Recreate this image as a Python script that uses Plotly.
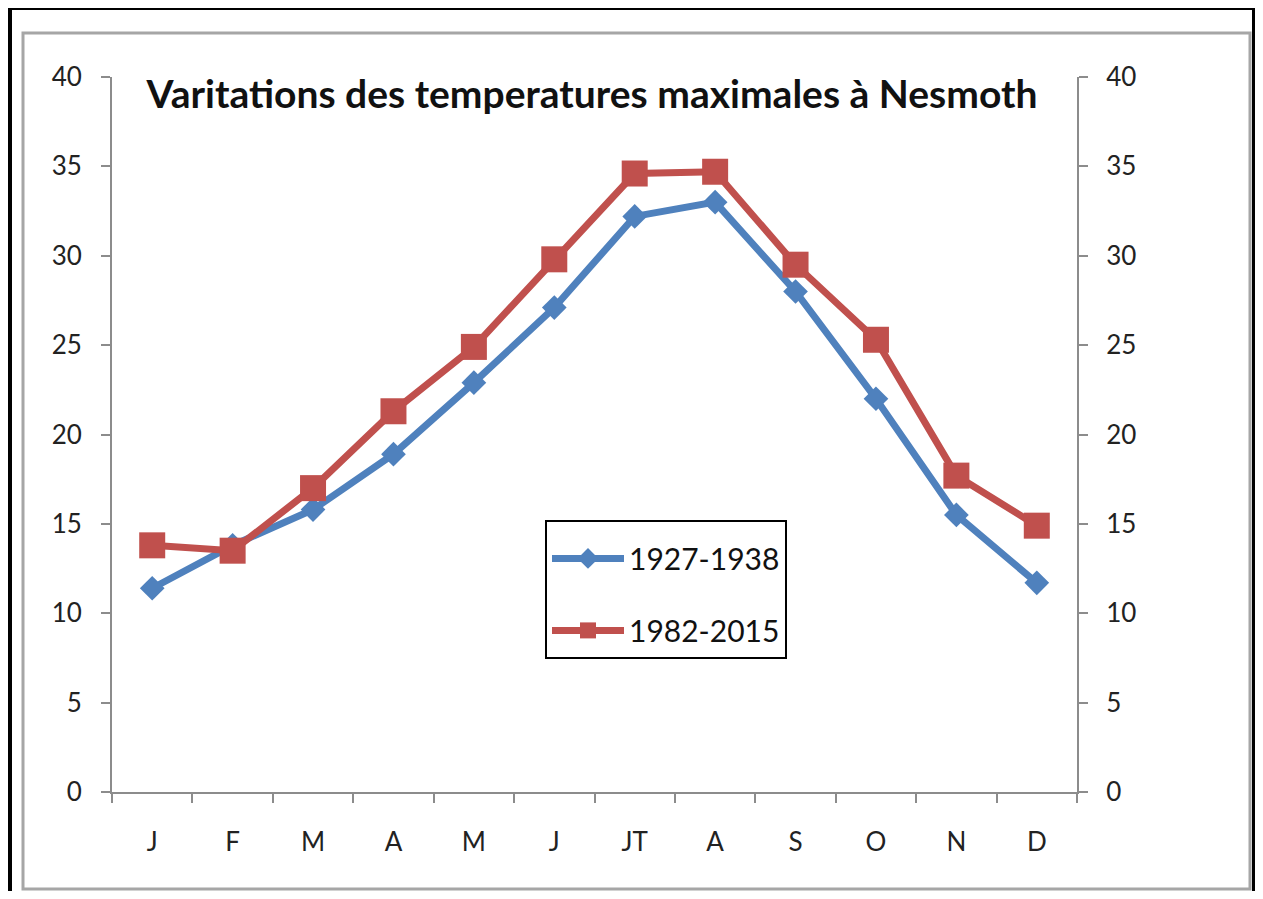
import plotly.graph_objects as go

months = ["J", "F", "M", "A", "M", "J", "JT", "A", "S", "O", "N", "D"]
series_1927_1938 = [11.4, 13.8, 15.8, 18.9, 22.9, 27.1, 32.2, 33.0, 28.0, 22.0, 15.5, 11.7]
series_1982_2015 = [13.8, 13.5, 17.0, 21.3, 24.9, 29.8, 34.6, 34.7, 29.5, 25.3, 17.7, 14.9]
y_ticks = [0, 5, 10, 15, 20, 25, 30, 35, 40]

OFF = 8  # page body margin
W, H = 1263 - 2 * OFF, 899 - 2 * OFF
L, R, T, B = 112 - OFF, 1077 - OFF, 77 - OFF, 792 - OFF

def px(x):
    return (x - OFF - L) / (R - L)

def py(y):
    return (B - (y - OFF)) / (B - T)

xs = list(range(len(months)))
font_family = "Lato, 'Open Sans', sans-serif"

fig = go.Figure()
fig.add_trace(go.Scatter(
    x=xs, y=series_1927_1938, name="1927-1938", mode="lines+markers",
    line=dict(color="#4F81BD", width=7),
    marker=dict(symbol="diamond", size=19, color="#4F81BD"),
    legendgroup="a",
))
fig.add_trace(go.Scatter(
    x=xs, y=series_1982_2015, name="1982-2015", mode="lines+markers",
    line=dict(color="#C0504D", width=7),
    marker=dict(symbol="square", size=26, color="#C0504D"),
    legendgroup="b",
))
fig.add_trace(go.Scatter(
    x=xs, y=series_1982_2015, yaxis="y2", mode="markers",
    marker=dict(opacity=0), showlegend=False, hoverinfo="skip",
))

axis_col = "#8c8c8c"
fig.update_layout(
    width=W, height=H,
    margin=dict(l=L, r=W - R, t=T, b=H - B),
    paper_bgcolor="white", plot_bgcolor="white",
    font=dict(family=font_family, color="#1a1a1a"),
    title=dict(
        text="<b>Varitations des temperatures maximales à Nesmoth</b>",
        x=px(592), xref="paper", xanchor="center",
        y=1 - (94 - OFF) / H, yanchor="middle",
        font=dict(size=39, family=font_family, color="#111"),
    ),
    xaxis=dict(
        range=[-0.5, 11.5], tickmode="array", tickvals=xs, ticktext=months,
        ticks="", showline=True, linecolor=axis_col, linewidth=2,
        showgrid=False, zeroline=False,
        tickfont=dict(size=26, color="#222"),
        ticklabelstandoff=26,
        minor=dict(ticks="outside", tick0=-0.5, dtick=1, ticklen=9,
                   tickcolor=axis_col, tickwidth=2, showgrid=False),
    ),
    yaxis=dict(
        range=[0, 40], tickvals=y_ticks, ticks="outside", ticklen=9,
        tickcolor=axis_col, tickwidth=2,
        showline=True, linecolor=axis_col, linewidth=2,
        showgrid=False, zeroline=False,
        tickfont=dict(size=26, color="#222"),
        ticklabelstandoff=14,
    ),
    yaxis2=dict(
        range=[0, 40], tickvals=y_ticks, ticks="outside", ticklen=9,
        tickcolor=axis_col, tickwidth=2,
        showline=True, linecolor=axis_col, linewidth=2,
        showgrid=False, zeroline=False, overlaying="y", side="right",
        tickfont=dict(size=26, color="#222"),
        ticklabelstandoff=13,
    ),
    legend=dict(
        x=px(545), y=py(520), xanchor="left", yanchor="top",
        bordercolor="black", borderwidth=2, bgcolor="white",
        font=dict(size=30, color="#111"),
        tracegroupgap=30, itemwidth=72,
        title=dict(text=" ", font=dict(size=8)),
    ),
    showlegend=True,
    shapes=[
        dict(type="rect", xref="paper", yref="paper",
             x0=px(23), x1=px(1250), y0=py(889), y1=py(33),
             line=dict(color="#a6a6a6", width=3), layer="below"),
        dict(type="rect", xref="paper", yref="paper",
             x0=px(10), x1=px(1254), y0=py(920), y1=py(8),
             line=dict(color="black", width=4), layer="below"),
    ],
)

fig.write_html("out.html")
